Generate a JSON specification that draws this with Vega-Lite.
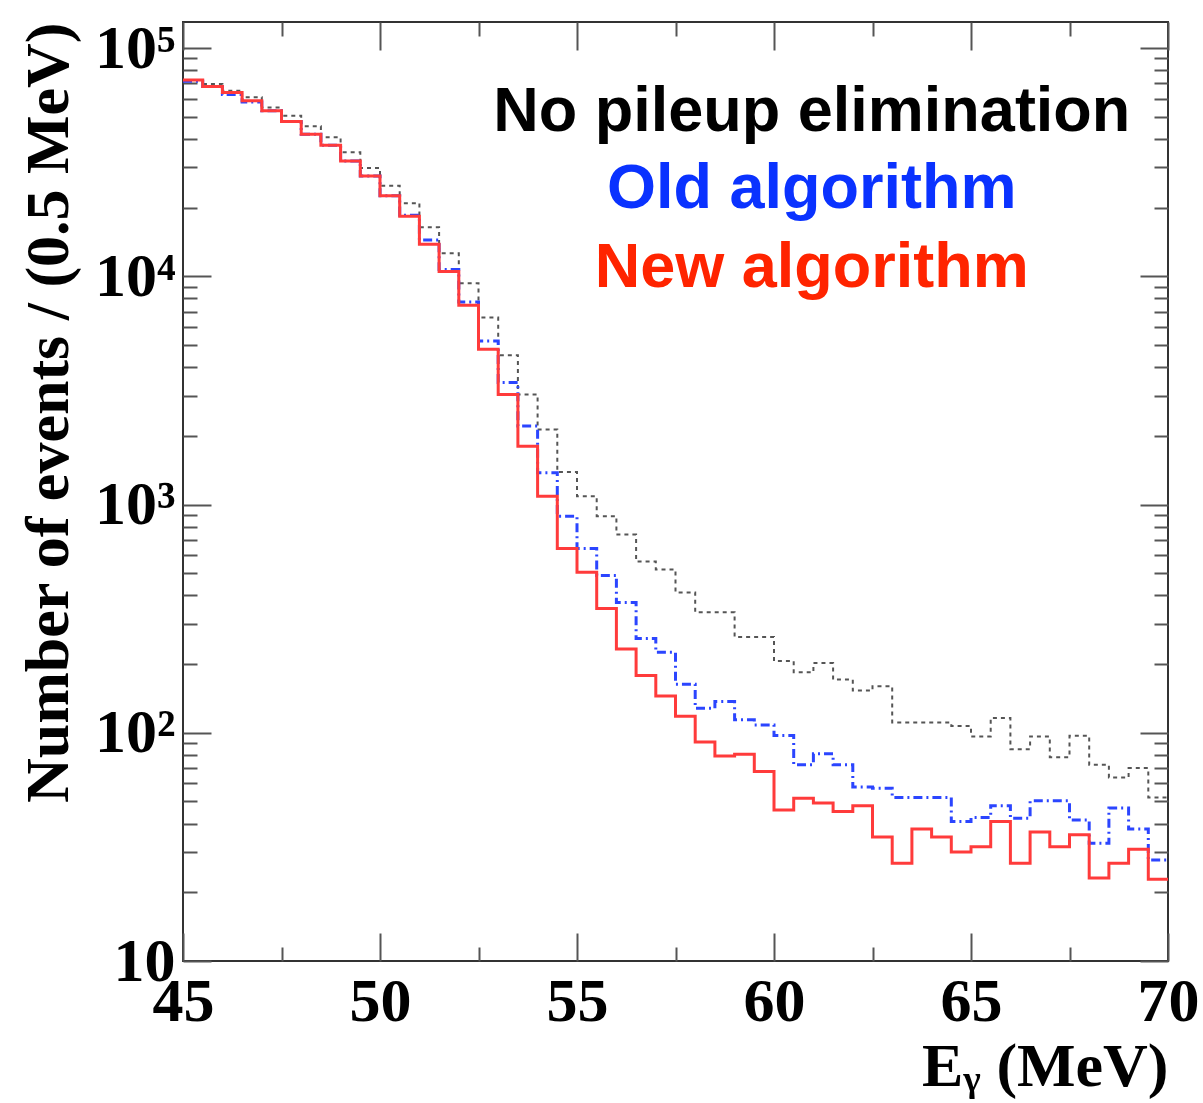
{
  "$schema": "https://vega.github.io/schema/vega-lite/v6.json",
  "width": 985,
  "height": 939,
  "autosize": "none",
  "padding": {"left": 183, "top": 22, "right": 35, "bottom": 142},
  "background": "white",
  "config": {
    "view": {"stroke": "#333333", "strokeWidth": 2},
    "axis": {"grid": false, "domain": false, "tickColor": "#555555", "tickWidth": 2}
  },
  "data": {"values": [
    {"E": 45.0, "none": 72400, "old": 71500, "new": 72400},
    {"E": 45.5, "none": 69500, "old": 67900, "new": 67900},
    {"E": 46.0, "none": 65000, "old": 62500, "new": 63900},
    {"E": 46.5, "none": 60800, "old": 58000, "new": 58800},
    {"E": 47.0, "none": 54900, "old": 53100, "new": 53100},
    {"E": 47.5, "none": 50500, "old": 47700, "new": 47700},
    {"E": 48.0, "none": 45400, "old": 41900, "new": 41900},
    {"E": 48.5, "none": 40600, "old": 37500, "new": 37500},
    {"E": 49.0, "none": 34900, "old": 32000, "new": 32000},
    {"E": 49.5, "none": 29800, "old": 27500, "new": 27500},
    {"E": 50.0, "none": 24900, "old": 22500, "new": 22500},
    {"E": 50.5, "none": 20900, "old": 18500, "new": 18300},
    {"E": 51.0, "none": 16400, "old": 14400, "new": 13800},
    {"E": 51.5, "none": 12600, "old": 10700, "new": 10500},
    {"E": 52.0, "none": 9310, "old": 7710, "new": 7460},
    {"E": 52.5, "none": 6590, "old": 5200, "new": 4790},
    {"E": 53.0, "none": 4510, "old": 3420, "new": 3035},
    {"E": 53.5, "none": 3035, "old": 2205, "new": 1800},
    {"E": 54.0, "none": 2133, "old": 1376, "new": 1087},
    {"E": 54.5, "none": 1387, "old": 889, "new": 641},
    {"E": 55.0, "none": 1087, "old": 641, "new": 505},
    {"E": 55.5, "none": 889, "old": 489, "new": 350},
    {"E": 56.0, "none": 738, "old": 372, "new": 233},
    {"E": 56.5, "none": 563, "old": 259, "new": 178},
    {"E": 57.0, "none": 519, "old": 225, "new": 145},
    {"E": 57.5, "none": 412, "old": 163, "new": 118},
    {"E": 58.0, "none": 337, "old": 128, "new": 91},
    {"E": 58.5, "none": 337, "old": 137, "new": 79},
    {"E": 59.0, "none": 263, "old": 114, "new": 80.5},
    {"E": 59.5, "none": 263, "old": 108, "new": 67.6},
    {"E": 60.0, "none": 206, "old": 97.3, "new": 45.9},
    {"E": 60.5, "none": 184, "old": 72.4, "new": 51.7},
    {"E": 61.0, "none": 202, "old": 80.9, "new": 49.2},
    {"E": 61.5, "none": 171, "old": 72.4, "new": 45.2},
    {"E": 62.0, "none": 153, "old": 57.8, "new": 47.9},
    {"E": 62.5, "none": 160, "old": 57.2, "new": 34.9},
    {"E": 63.0, "none": 111, "old": 52.1, "new": 26.8},
    {"E": 63.5, "none": 111, "old": 52.1, "new": 37.9},
    {"E": 64.0, "none": 111, "old": 52.1, "new": 34.9},
    {"E": 64.5, "none": 107, "old": 40.9, "new": 30.0},
    {"E": 65.0, "none": 96.4, "old": 42.5, "new": 31.7},
    {"E": 65.5, "none": 116, "old": 47.9, "new": 40.9},
    {"E": 66.0, "none": 84.7, "old": 42.2, "new": 26.8},
    {"E": 66.5, "none": 96.4, "old": 50.3, "new": 36.7},
    {"E": 67.0, "none": 78.2, "old": 50.3, "new": 31.7},
    {"E": 67.5, "none": 97, "old": 41.5, "new": 35.7},
    {"E": 68.0, "none": 72.4, "old": 32.8, "new": 23.1},
    {"E": 68.5, "none": 63.7, "old": 46.8, "new": 26.8},
    {"E": 69.0, "none": 70, "old": 37.9, "new": 30.9},
    {"E": 69.5, "none": 52.1, "old": 27.7, "new": 22.8},
    {"E": 70.0, "none": 52.1, "old": 27.7, "new": 22.8}
  ]},
  "resolve": {"axis": {"x": "independent", "y": "independent"}},
  "layer": [
    {
      "mark": {"type": "line", "interpolate": "step-after", "color": "#555555", "strokeWidth": 2, "strokeDash": [4, 4]},
      "encoding": {
        "x": {"field": "E", "type": "quantitative",
              "scale": {"domain": [45, 70], "nice": false, "zero": false},
              "axis": {"orient": "bottom", "values": [45, 50, 55, 60, 65, 70], "ticks": false, "labelPadding": 10,
                       "labelFont": "Liberation Serif", "labelFontWeight": "bold", "labelFontSize": 62, "labelColor": "black",
                       "labelFlush": false, "labelOverlap": false,
                       "title": "Eᵧ (MeV)", "titleFont": "Liberation Serif", "titleFontWeight": "bold", "titleFontSize": 62,
                       "titleColor": "black", "titleAnchor": "end", "titlePadding": 4}},
        "y": {"field": "none", "type": "quantitative",
              "scale": {"type": "log", "domain": [10, 130000], "nice": false},
              "axis": {"orient": "left", "values": [10, 100, 1000, 10000, 100000], "ticks": false, "labelPadding": 8,
                       "labelExpr": "datum.value == 10 ? '10' : datum.value == 100 ? '10²' : datum.value == 1000 ? '10³' : datum.value == 10000 ? '10⁴' : '10⁵'",
                       "labelFont": "Liberation Serif", "labelFontWeight": "bold", "labelFontSize": 62, "labelColor": "black",
                       "labelFlush": false, "labelOverlap": false,
                       "title": "Number of events / (0.5 MeV)", "titleFont": "Liberation Serif", "titleFontWeight": "bold",
                       "titleFontSize": 62, "titleColor": "black", "titleAnchor": "end", "titlePadding": 14}}
      }
    },
    {
      "mark": {"type": "line", "interpolate": "step-after", "color": "#2b45ff", "strokeWidth": 3, "strokeDash": [9, 4, 2, 4]},
      "encoding": {
        "x": {"field": "E", "type": "quantitative", "scale": {"domain": [45, 70], "nice": false, "zero": false}, "axis": null},
        "y": {"field": "old", "type": "quantitative", "scale": {"type": "log", "domain": [10, 130000], "nice": false}, "axis": null}
      }
    },
    {
      "mark": {"type": "line", "interpolate": "step-after", "color": "#ff3b3b", "strokeWidth": 3},
      "encoding": {
        "x": {"field": "E", "type": "quantitative", "scale": {"domain": [45, 70], "nice": false, "zero": false}, "axis": null},
        "y": {"field": "new", "type": "quantitative", "scale": {"type": "log", "domain": [10, 130000], "nice": false}, "axis": null}
      }
    },
    {
      "mark": {"type": "point", "opacity": 0},
      "encoding": {
        "x": {"field": "E", "type": "quantitative", "scale": {"domain": [45, 70], "nice": false, "zero": false},
              "axis": {"orient": "bottom", "values": [45, 50, 55, 60, 65, 70], "labels": false, "tickSize": -28, "title": null}},
        "y": {"field": "new", "type": "quantitative", "scale": {"type": "log", "domain": [10, 130000], "nice": false},
              "axis": {"orient": "left", "values": [10, 100, 1000, 10000, 100000], "labels": false, "tickSize": -28, "title": null}}
      }
    },
    {
      "mark": {"type": "point", "opacity": 0},
      "encoding": {
        "x": {"field": "E", "type": "quantitative", "scale": {"domain": [45, 70], "nice": false, "zero": false},
              "axis": {"orient": "bottom", "values": [47.5, 52.5, 57.5, 62.5, 67.5], "labels": false, "tickSize": -14, "title": null}},
        "y": {"field": "new", "type": "quantitative", "scale": {"type": "log", "domain": [10, 130000], "nice": false},
              "axis": {"orient": "left", "values": [20, 30, 40, 50, 60, 70, 80, 90, 200, 300, 400, 500, 600, 700, 800, 900, 2000, 3000, 4000, 5000, 6000, 7000, 8000, 9000, 20000, 30000, 40000, 50000, 60000, 70000, 80000, 90000], "labels": false, "tickSize": -14, "title": null}}
      }
    },
    {
      "mark": {"type": "point", "opacity": 0},
      "encoding": {
        "x": {"field": "E", "type": "quantitative", "scale": {"domain": [45, 70], "nice": false, "zero": false},
              "axis": {"orient": "top", "values": [45, 50, 55, 60, 65, 70], "labels": false, "tickSize": -28, "title": null}},
        "y": {"field": "new", "type": "quantitative", "scale": {"type": "log", "domain": [10, 130000], "nice": false},
              "axis": {"orient": "right", "values": [10, 100, 1000, 10000, 100000], "labels": false, "tickSize": -28, "title": null}}
      }
    },
    {
      "mark": {"type": "point", "opacity": 0},
      "encoding": {
        "x": {"field": "E", "type": "quantitative", "scale": {"domain": [45, 70], "nice": false, "zero": false},
              "axis": {"orient": "top", "values": [47.5, 52.5, 57.5, 62.5, 67.5], "labels": false, "tickSize": -14, "title": null}},
        "y": {"field": "new", "type": "quantitative", "scale": {"type": "log", "domain": [10, 130000], "nice": false},
              "axis": {"orient": "right", "values": [20, 30, 40, 50, 60, 70, 80, 90, 200, 300, 400, 500, 600, 700, 800, 900, 2000, 3000, 4000, 5000, 6000, 7000, 8000, 9000, 20000, 30000, 40000, 50000, 60000, 70000, 80000, 90000], "labels": false, "tickSize": -14, "title": null}}
      }
    },
    {
      "data": {"values": [
        {"label": "No pileup elimination", "E": 60.96, "v": 52300, "group": "none"},
        {"label": "Old algorithm", "E": 60.96, "v": 24100, "group": "old"},
        {"label": "New algorithm", "E": 60.96, "v": 10900, "group": "new"}
      ]},
      "mark": {"type": "text", "font": "Liberation Sans", "fontWeight": "bold", "fontSize": 63, "align": "center", "baseline": "middle"},
      "encoding": {
        "x": {"field": "E", "type": "quantitative", "scale": {"domain": [45, 70], "nice": false, "zero": false}, "axis": null},
        "y": {"field": "v", "type": "quantitative", "scale": {"type": "log", "domain": [10, 130000], "nice": false}, "axis": null},
        "text": {"field": "label"},
        "color": {"field": "group", "type": "nominal", "legend": null,
                  "scale": {"domain": ["none", "old", "new"], "range": ["#000000", "#0a32ff", "#ff2400"]}}
      }
    }
  ]
}
